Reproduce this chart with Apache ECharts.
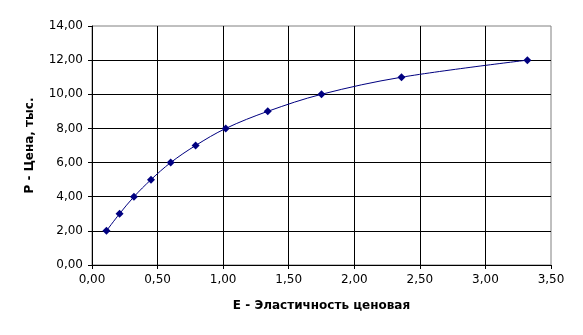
<!DOCTYPE html>
<html><head><meta charset="utf-8">
<script src="https://cdn.jsdelivr.net/npm/echarts@6/dist/echarts.min.js"></script>
<style>html,body{margin:0;padding:0;background:#fff}#c{width:583px;height:335px}</style>
</head><body><div id="c"></div>
<script>
const elasticity = [0.11, 0.21, 0.32, 0.45, 0.60, 0.79, 1.02, 1.34, 1.75, 2.36, 3.32];
const price = [2, 3, 4, 5, 6, 7, 8, 9, 10, 11, 12];
const xAxisTitle = 'Е - Эластичность ценовая';
const yAxisTitle = 'Р - Цена, тыс.';

const fmt = v => v.toFixed(2).replace('.', ',');
const font = 'DejaVu Sans';
const chart = echarts.init(document.getElementById('c'), null, {renderer: 'canvas'});
chart.setOption({
  animation: false,
  backgroundColor: '#fff',
  grid: {left: 92, top: 26, width: 459, height: 239, show: true, borderColor: '#808080', borderWidth: 1, backgroundColor: 'transparent'},
  xAxis: {
    type: 'value', min: 0, max: 3.5, interval: 0.5,
    name: xAxisTitle, nameLocation: 'middle', nameGap: 35,
    nameTextStyle: {fontFamily: font, fontSize: 12, fontWeight: 'bold', color: '#000'},
    axisLine: {show: true, lineStyle: {color: '#000', width: 1}},
    axisTick: {show: true, length: 4, lineStyle: {color: '#000'}},
    axisLabel: {formatter: fmt, fontFamily: font, fontSize: 12, color: '#000', margin: 9},
    splitLine: {show: true, showMinLine: false, showMaxLine: false, lineStyle: {color: '#000', width: 1}}
  },
  yAxis: {
    type: 'value', min: 0, max: 14, interval: 2,
    name: yAxisTitle, nameLocation: 'middle', nameGap: 56,
    nameTextStyle: {fontFamily: font, fontSize: 12, fontWeight: 'bold', color: '#000'},
    axisLine: {show: true, lineStyle: {color: '#000', width: 1}},
    axisTick: {show: true, length: 4, lineStyle: {color: '#000'}},
    axisLabel: {formatter: fmt, fontFamily: font, fontSize: 12, color: '#000', margin: 9},
    splitLine: {show: true, showMinLine: false, showMaxLine: false, lineStyle: {color: '#000', width: 1}}
  },
  series: [{
    type: 'line',
    data: elasticity.map((e, i) => [e, price[i]]),
    smooth: 0.35,
    symbol: 'diamond', symbolSize: 8,
    lineStyle: {color: '#000080', width: 1},
    itemStyle: {color: '#000080'}
  }]
});
</script></body></html>
